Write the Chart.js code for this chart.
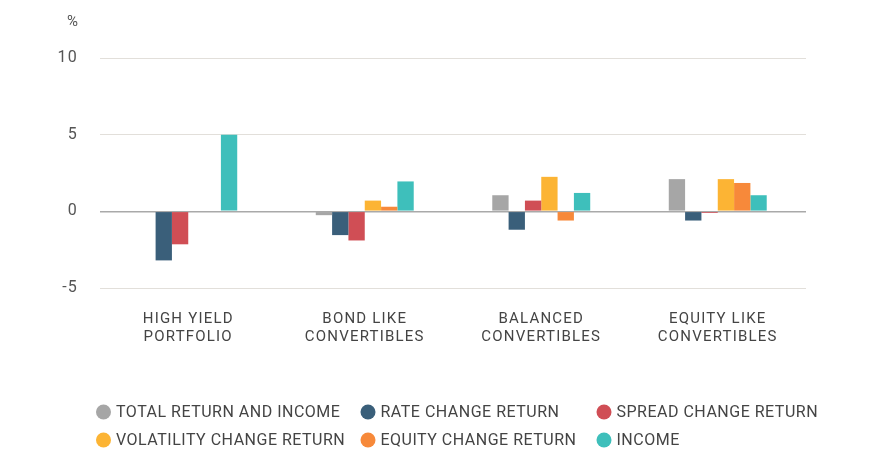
<!DOCTYPE html>
<html>
<head>
<meta charset="utf-8">
<script src="https://cdn.jsdelivr.net/npm/chart.js@4/dist/chart.umd.min.js"></script>
<style>
  html, body { margin: 0; padding: 0; background: #fff; }
  #wrap { width: 871px; height: 469px; position: relative; }
</style>
</head>
<body>
<div id="wrap"><canvas id="chart"></canvas></div>
<script>
// categories, two lines each
var categories = [
  ['HIGH YIELD', 'PORTFOLIO'],
  ['BOND LIKE', 'CONVERTIBLES'],
  ['BALANCED', 'CONVERTIBLES'],
  ['EQUITY LIKE', 'CONVERTIBLES']
];

var seriesNames = [
  'TOTAL RETURN AND INCOME',
  'RATE CHANGE RETURN',
  'SPREAD CHANGE RETURN',
  'VOLATILITY CHANGE RETURN',
  'EQUITY CHANGE RETURN',
  'INCOME'
];

// values in %
var totalReturn = [-0.05, -0.25, 1.05, 2.1];
var rateChange = [-3.2, -1.55, -1.2, -0.6];
var spreadChange = [-2.15, -1.9, 0.7, -0.1];
var volatilityChange = [0, 0.7, 2.25, 2.1];
var equityChange = [0, 0.3, -0.6, 1.85];
var income = [5.0, 1.95, 1.2, 1.05];

var yTicks = [-5, 0, 5, 10];

var colors = ['#a6a6a6', '#3a5f7a', '#d04e55', '#fcb434', '#f7893a', '#3ebfbb'];
var values = [totalReturn, rateChange, spreadChange, volatilityChange, equityChange, income];

var datasets = seriesNames.map(function (name, i) {
  return {
    label: name,
    data: values[i],
    backgroundColor: colors[i],
    borderWidth: 0,
    barPercentage: 1,
    categoryPercentage: 0.555
  };
});

var font = "Roboto, 'DejaVu Sans', sans-serif";

// letter spacing for the axis text, % label and grid-aligned legend
var extras = {
  id: 'extras',
  beforeLayout: function (chart) { chart.ctx.letterSpacing = '1.2px'; },
  beforeDraw: function (chart) { chart.ctx.letterSpacing = '1.2px'; },
  afterDraw: function (chart) {
    var ctx = chart.ctx;
    ctx.save();
    ctx.letterSpacing = '0px';
    ctx.fillStyle = '#555';
    ctx.font = '15px ' + font;
    ctx.textAlign = 'right';
    ctx.textBaseline = 'middle';
    ctx.fillText('%', 78, 22);

    var cols = [103.5, 368, 604];
    var rows = [412, 440];
    ctx.font = '16px ' + font;
    ctx.letterSpacing = '0.5px';
    ctx.textAlign = 'left';
    chart.data.datasets.forEach(function (ds, i) {
      var x = cols[i % 3], y = rows[Math.floor(i / 3)];
      ctx.fillStyle = ds.backgroundColor;
      ctx.beginPath();
      ctx.arc(x, y, 7.5, 0, Math.PI * 2);
      ctx.fill();
      ctx.fillStyle = '#444';
      ctx.fillText(ds.label, x + 12.5, y + 1);
    });
    ctx.restore();
  }
};

var ctx = document.getElementById('chart');
var chart = new Chart(ctx, {
  type: 'bar',
  data: {
    labels: categories,
    datasets: datasets
  },
  options: {
    responsive: true,
    maintainAspectRatio: false,
    animation: false,
    layout: { padding: { top: 58, right: 65, bottom: 0, left: 0 } },
    plugins: {
      legend: { display: false },
      tooltip: { enabled: false }
    },
    scales: {
      x: {
        grid: { display: false, drawTicks: false },
        border: { display: false },
        ticks: {
          color: '#444',
          font: { family: font, size: 15, lineHeight: 1.2 },
          padding: 22,
          maxRotation: 0
        },
        afterFit: function (scale) { scale.height = 181; }
      },
      y: {
        min: -5,
        max: 10,
        afterBuildTicks: function (scale) {
          scale.ticks = yTicks.map(function (v) { return { value: v }; });
        },
        grid: {
          drawTicks: false,
          color: function (c) { return c.tick && c.tick.value === 0 ? '#a9a9a9' : '#e2dfda'; },
          lineWidth: function (c) { return c.tick && c.tick.value === 0 ? 1.5 : 1; }
        },
        border: { display: false },
        ticks: {
          color: '#555',
          font: { family: font, size: 16 },
          padding: 22
        },
        afterFit: function (scale) { scale.width = 100; }
      }
    }
  },
  plugins: [extras]
});
</script>
</body>
</html>
